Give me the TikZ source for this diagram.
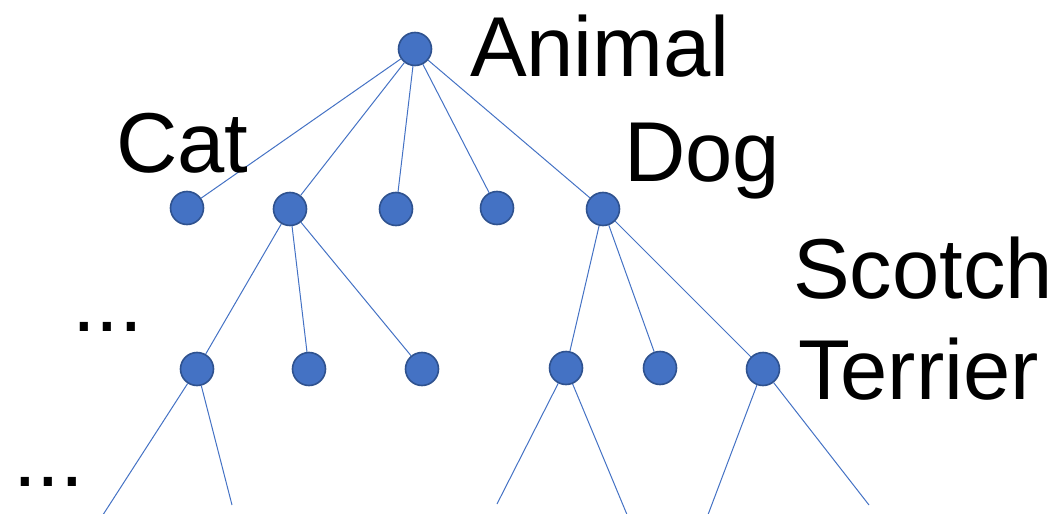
\documentclass[tikz,border=0pt]{standalone}
\usepackage{fontspec}
\setmainfont{Liberation Sans}
\definecolor{nodefill}{HTML}{4472C4}
\definecolor{nodeline}{HTML}{2F528F}
\definecolor{edgeline}{HTML}{4472C4}
\begin{document}
\begin{tikzpicture}[x=1pt,y=-1pt,
  vertex/.style={circle,fill=nodefill,draw=nodeline,line width=1.6pt,
    minimum size=33pt,inner sep=0pt},
  edge/.style={draw=edgeline,line width=1pt},
  label/.style={anchor=base west,inner sep=0pt,outer sep=0pt,
    font=\fontsize{85}{100}\selectfont}]
\useasboundingbox (0,0) rectangle (1061,514);
\clip (0,0) rectangle (1061,514);

% tree vertices
\node[vertex] (root) at (415,49) {};
\node[vertex] (cat) at (187,208) {};
\node[vertex] (b) at (290,209) {};
\node[vertex] (c) at (396,209) {};
\node[vertex] (d) at (497,208) {};
\node[vertex] (dog) at (603,209) {};
\node[vertex] (b1) at (197,369) {};
\node[vertex] (b2) at (309,369) {};
\node[vertex] (b3) at (422,369) {};
\node[vertex] (g1) at (566,368) {};
\node[vertex] (g2) at (660,368) {};
\node[vertex] (terrier) at (763,369) {};

% loose ends of the bottom level
\coordinate (e1) at (99,521);
\coordinate (e2) at (232,505);
\coordinate (e3) at (497,504);
\coordinate (e4) at (628,517);
\coordinate (e5) at (706,520);
\coordinate (e6) at (869,505);

% connectors
\foreach \p/\q in {root/cat,root/b,root/c,root/d,root/dog,
                   b/b1,b/b2,b/b3,dog/g1,dog/g2,dog/terrier}
  \draw[edge] (\p) -- (\q);
\draw[edge] (b1) -- (e1);
\draw[edge] (b1) -- (e2);
\draw[edge] (g1) -- (e3);
\draw[edge] (g1) -- (e4);
\draw[edge] (terrier) -- (e5);
\draw[edge] (terrier) -- (e6);

% labels
\node[label] (lanimal) at (470,76) {Animal};
\node[label] (lcat) at (116,172) {Cat};
\node[label] (ldog) at (624,181) {Dog};
\node[label] (lscotch) at (793,298) {Scotch};
\node[label] (lterrier) at (798,399) {Terrier};
\node[label] (dots1) at (72,331) {...};
\node[label] (dots2) at (13,486) {...};
\end{tikzpicture}
\end{document}
